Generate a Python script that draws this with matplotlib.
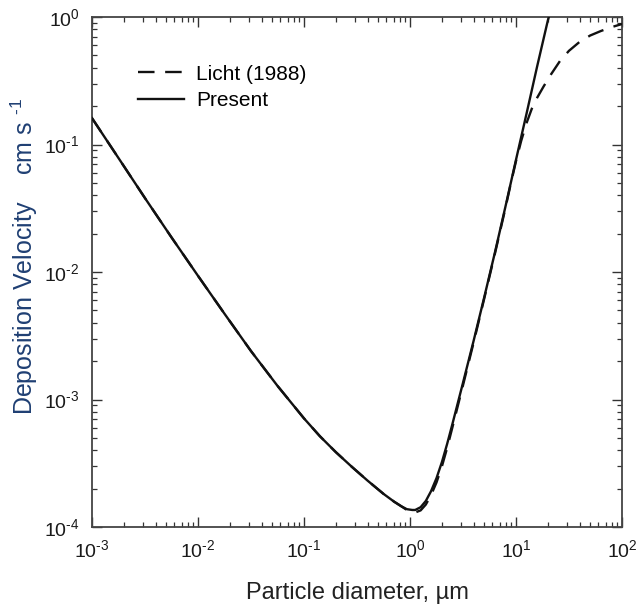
import matplotlib
matplotlib.use("Agg")
import matplotlib.pyplot as plt
from matplotlib.ticker import LogLocator, NullFormatter, FixedLocator

plt.rcParams['font.family'] = ['Liberation Sans', 'DejaVu Sans']
plt.rcParams['mathtext.fontset'] = 'custom'
plt.rcParams['mathtext.rm'] = 'Liberation Sans'
plt.rcParams['mathtext.it'] = 'Liberation Sans:italic'
plt.rcParams['mathtext.default'] = 'regular'

# Present (solid)
present_x = [0.001, 0.00178, 0.00316, 0.00562, 0.01, 0.0178, 0.0316, 0.0562, 0.1, 0.141,
             0.2, 0.282, 0.398, 0.562, 0.708, 0.832, 0.933, 1.05, 1.12, 1.26,
             1.41, 1.58, 1.78, 2.0, 2.24, 2.51, 3.16, 3.98, 5.01, 6.31,
             7.94, 10.0, 12.6, 15.8, 20.0, 20.4]
present_y = [0.161, 0.0782, 0.0380, 0.0187, 0.00933, 0.00470, 0.00240, 0.00128, 7.11e-4, 5.16e-4,
             3.86e-4, 2.97e-4, 2.31e-4, 1.82e-4, 1.58e-4, 1.45e-4, 1.38e-4, 1.36e-4, 1.36e-4, 1.43e-4,
             1.60e-4, 1.91e-4, 2.42e-4, 3.23e-4, 4.48e-4, 6.40e-4, 1.35e-3, 2.88e-3, 6.31e-3, 1.41e-2,
             3.24e-2, 7.59e-2, 0.176, 0.407, 0.944, 1.0]

# Licht (1988) (dashed)
licht_x = [0.001, 0.00178, 0.00316, 0.00562, 0.01, 0.0178, 0.0316, 0.0562, 0.1, 0.141,
           0.2, 0.282, 0.398, 0.562, 0.708, 0.832, 0.933, 1.05, 1.12, 1.26,
           1.41, 1.58, 1.78, 2.0, 2.24, 2.51, 3.16, 3.98, 5.01, 6.31,
           7.94, 8.91, 10.0, 11.2, 12.6, 14.1, 15.8, 18.2, 21.4, 26.0,
           31.6, 39.8, 50.1, 63.1, 79.4, 100]
licht_y = [0.161, 0.0782, 0.0380, 0.0187, 0.00933, 0.00470, 0.00240, 0.00128, 7.11e-4, 5.16e-4,
           3.86e-4, 2.97e-4, 2.31e-4, 1.82e-4, 1.58e-4, 1.45e-4, 1.36e-4, 1.32e-4, 1.30e-4, 1.35e-4,
           1.50e-4, 1.78e-4, 2.24e-4, 2.99e-4, 4.17e-4, 6.03e-4, 1.29e-3, 2.79e-3, 6.17e-3, 1.38e-2,
           3.16e-2, 4.90e-2, 7.41e-2, 0.107, 0.148, 0.191, 0.232, 0.285, 0.355, 0.452,
           0.543, 0.638, 0.716, 0.776, 0.832, 0.881]

H_ = '\u2010'
x_ticks = [1e-3, 1e-2, 1e-1, 1e0, 1e1, 1e2]
x_labels = ['10$^{' + H_ + '3}$', '10$^{' + H_ + '2}$', '10$^{' + H_ + '1}$', '10$^{0}$', '10$^{1}$', '10$^{2}$']
y_ticks = [1e-4, 1e-3, 1e-2, 1e-1, 1e0]
y_labels = ['10$^{' + H_ + '4}$', '10$^{' + H_ + '3}$', '10$^{' + H_ + '2}$', '10$^{' + H_ + '1}$', '10$^{0}$']

W, H = 637, 611
fig = plt.figure(figsize=(W / 100, H / 100), dpi=100)
ax = fig.add_axes([92 / W, (H - 527) / H, 530 / W, 510 / H])

ax.plot(present_x, present_y, color='#111111', lw=1.7, label='Present', zorder=3)
ax.plot(licht_x, licht_y, color='#111111', lw=1.7, dashes=(7, 4.5), label='Licht (1988)', zorder=4)

ax.set_xscale('log')
ax.set_yscale('log')
ax.set_xlim(1e-3, 1e2)
ax.set_ylim(1e-4, 1e0)

ax.xaxis.set_major_locator(FixedLocator(x_ticks))
ax.set_xticklabels(x_labels)
ax.yaxis.set_major_locator(FixedLocator(y_ticks))
ax.set_yticklabels(y_labels)
ax.xaxis.set_minor_locator(LogLocator(base=10, subs=range(2, 10), numticks=20))
ax.yaxis.set_minor_locator(LogLocator(base=10, subs=range(2, 10), numticks=20))
ax.xaxis.set_minor_formatter(NullFormatter())
ax.yaxis.set_minor_formatter(NullFormatter())

ax.tick_params(which='both', direction='in', top=True, right=True, colors='#333333')
ax.tick_params(which='major', length=7, width=1.0, labelsize=14, pad=9, labelcolor='#1a1a1a')
ax.tick_params(which='minor', length=3.5, width=0.9)
for s in ax.spines.values():
    s.set_color('#444444')
    s.set_linewidth(1.3)

handles, labels = ax.get_legend_handles_labels()
ax.legend(handles[::-1], labels[::-1], loc='upper left', bbox_to_anchor=(0.072, 0.923),
          frameon=False, fontsize=15, handlelength=2.2, handletextpad=0.55,
          labelspacing=0.35, borderaxespad=0)

fig.text(0.5 * (92 + 622) / W, (H - 593) / H, 'Particle diameter, \u00b5m',
         ha='center', va='center', fontsize=17, color='#222222')
fig.text(24 / W, (H - 256.5) / H, 'Deposition Velocity    cm s $^{' + H_ + '1}$',
         ha='center', va='center', rotation=90, fontsize=18, color='#1F3F73')

fig.savefig('out.png', dpi=100)
